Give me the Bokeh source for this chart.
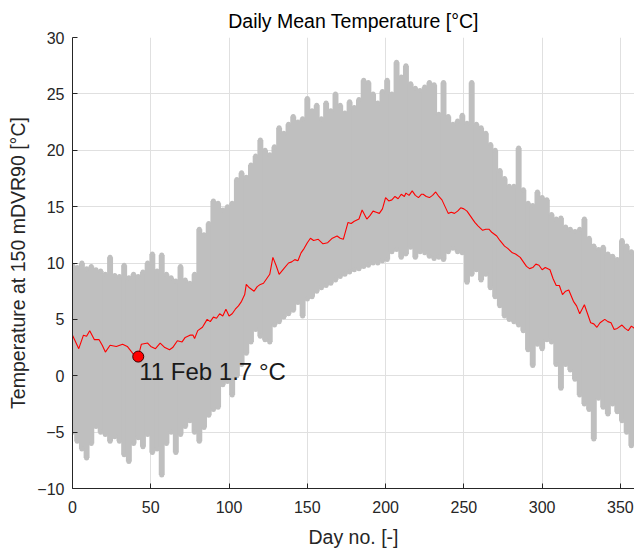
from bokeh.plotting import figure
from bokeh.models import Range1d, Label, FixedTicker
from bokeh.embed import file_html
from bokeh.resources import INLINE

# ---- data ----
# gray cloud of all years: per 3-day bin, lowest and highest daily mean
cloud_days = [0, 3, 6, 9, 12, 15, 18, 21, 24, 27, 30, 33, 36, 39, 42, 45, 48, 51, 54, 57,
              60, 63, 66, 69, 72, 75, 78, 81, 84, 87, 90, 93, 96, 99, 102, 105, 108, 111, 114, 117,
              120, 123, 126, 129, 132, 135, 138, 141, 144, 147, 150, 153, 156, 159, 162, 165, 168, 171, 174, 177,
              180, 183, 186, 189, 192, 195, 198, 201, 204, 207, 210, 213, 216, 219, 222, 225, 228, 231, 234, 237,
              240, 243, 246, 249, 252, 255, 258, 261, 264, 267, 270, 273, 276, 279, 282, 285, 288, 291, 294, 297,
              300, 303, 306, 309, 312, 315, 318, 321, 324, 327, 330, 333, 336, 339, 342, 345, 348, 351, 354, 357, 360]
cloud_high = [9.8, 9.6, 10.0, 9.5, 9.7, 9.4, 9.3, 9.0, 10.5, 8.9, 8.8, 9.8, 8.7, 9.0, 8.8, 9.2, 10.0, 10.8, 9.3, 10.7,
              9.0, 8.7, 8.4, 9.7, 8.5, 8.2, 9.0, 13.0, 12.5, 13.5, 15.5, 15.3, 14.7, 15.0, 15.3, 17.4, 18.0, 17.6, 18.7, 19.5,
              20.9, 20.0, 19.6, 20.3, 22.0, 21.5, 22.3, 23.0, 22.5, 22.8, 24.6, 23.5, 24.0, 22.8, 24.2, 23.5, 25.0, 24.0, 23.3, 24.3,
              23.8, 24.5, 26.2, 26.0, 25.0, 24.2, 25.2, 26.2, 25.0, 27.8, 26.5, 27.5, 25.9, 25.5, 25.3, 25.6, 26.0, 25.8, 23.2, 26.0,
              23.0, 22.3, 22.6, 23.1, 22.4, 26.0, 22.3, 22.0, 21.5, 20.5, 20.0, 18.2, 17.5, 16.8, 16.8, 20.2, 16.5, 15.3, 15.1, 16.3,
              15.8, 15.6, 14.3, 13.9, 14.0, 13.2, 13.0, 12.8, 13.0, 13.9, 12.2, 11.5, 11.2, 11.4, 10.8, 10.6, 10.3, 12.0, 11.5, 11.0, 11.0]
cloud_low = [-5.0, -5.8, -6.5, -7.3, -6.0, -4.5, -5.0, -5.2, -5.8, -5.4, -5.8, -7.0, -7.6, -6.0, -5.5, -6.3, -5.2, -6.8, -6.5, -8.8,
             -6.0, -5.0, -6.8, -5.2, -4.5, -4.0, -5.0, -5.8, -4.6, -3.5, -3.0, -2.8, -0.8, -0.5, -1.7, 0.0, 1.0, 2.0, 3.0, 4.1,
             3.5, 3.2, 3.0, 4.5, 4.8, 5.2, 5.5, 5.8, 6.5, 5.3, 6.8, 7.0, 7.5, 7.8, 8.0, 8.2, 8.5, 8.8, 9.0, 9.2,
             9.4, 9.5, 9.7, 9.8, 10.0, 10.0, 10.2, 10.3, 11.0, 11.2, 10.5, 10.8, 11.4, 10.5, 11.0, 10.9, 10.6, 10.4, 10.5, 10.3,
             11.0, 11.3, 11.0, 10.9, 8.3, 9.0, 9.4, 8.5, 9.0, 7.8, 7.0, 6.2, 5.3, 5.0, 4.8, 4.5, 4.0, 2.3, 0.9, 2.8,
             2.4, 3.2, 3.0, 1.0, -1.1, 1.0, 0.5, -0.3, -1.7, -2.5, -3.0, -5.6, -2.0, -2.8, -3.4, -2.5, -3.2, -4.0, -5.0, -6.2, -6.0]

# red line: mean over all years
mean_days = [0, 2, 4, 7, 9, 11, 14, 17, 19, 21, 24, 28, 32, 35, 39, 42, 44, 48, 50, 53,
             56, 59, 62, 64, 67, 70, 72, 75, 77, 78, 80, 83, 86, 88, 90, 92, 94, 96, 98, 100,
             102, 104, 106, 108, 110, 111, 113, 116, 118, 120, 122, 124, 126, 128, 130, 132, 135, 138, 140, 142,
             144, 146, 148, 150, 152, 154, 157, 160, 163, 166, 169, 171, 173, 176, 178, 180, 183, 185, 188, 190,
             192, 194, 196, 198, 200, 202, 204, 206, 208, 210, 212, 213, 215, 217, 219, 221, 223, 224, 226, 228,
             230, 232, 234, 236, 238, 240, 242, 244, 246, 248, 250, 252, 254, 257, 259, 262, 264, 266, 268, 271,
             273, 276, 278, 281, 283, 286, 288, 290, 292, 294, 296, 298, 300, 302, 305, 307, 309, 311, 313, 315,
             317, 320, 322, 324, 327, 329, 331, 333, 335, 337, 340, 342, 344, 346, 348, 351, 353, 355, 357, 359]
mean_vals = [3.6, 3.0, 2.4, 3.6, 3.5, 4.0, 3.2, 3.2, 2.7, 2.1, 2.7, 2.6, 2.8, 2.6, 1.9, 1.7, 2.8, 2.9, 2.6, 2.4,
             2.9, 2.5, 2.3, 2.5, 3.1, 3.0, 3.4, 3.6, 3.6, 3.3, 4.0, 4.3, 5.0, 4.8, 5.2, 5.1, 5.5, 5.3, 5.9, 5.3,
             5.5, 5.9, 6.2, 6.6, 7.2, 8.1, 7.8, 7.5, 7.9, 8.1, 8.2, 8.6, 9.0, 10.5, 9.8, 9.0, 9.5, 10.0, 10.1, 10.3,
             10.2, 10.9, 11.3, 11.8, 12.2, 12.0, 12.1, 11.7, 11.8, 12.2, 12.4, 12.2, 12.1, 13.6, 13.5, 13.7, 13.9, 14.7, 13.9, 14.2,
             14.6, 14.5, 14.4, 14.8, 15.8, 15.5, 15.6, 15.9, 15.7, 16.1, 15.9, 16.2, 16.0, 16.4, 16.0, 15.8, 16.1, 16.1, 15.9, 15.8,
             16.0, 16.3, 15.9, 15.6, 15.0, 14.4, 14.5, 14.4, 14.6, 14.9, 14.8, 14.6, 14.2, 13.6, 13.3, 12.9, 13.0, 13.0, 12.7, 12.4,
             12.0, 11.5, 11.3, 10.9, 10.8, 10.5, 10.1, 9.7, 9.5, 9.6, 9.9, 9.8, 9.4, 9.6, 9.4, 8.6, 8.0, 8.0, 7.2, 7.5,
             7.6, 6.6, 6.2, 5.5, 6.3, 5.5, 4.7, 4.6, 4.3, 4.7, 5.0, 4.8, 4.7, 4.1, 4.2, 4.5, 4.2, 4.0, 4.4, 4.2]

# annotated minimum
min_day = [42]
min_val = [1.7]
min_text = "11 Feb 1.7 °C"

x_ticks = [0, 50, 100, 150, 200, 250, 300, 350]
y_ticks = [-10, -5, 0, 5, 10, 15, 20, 25, 30]

FONT = "Liberation Sans"
INK = "#262626"
GRAY = "#bfbfbf"

p = figure(width=634, height=550, output_backend="svg", toolbar_location=None,
           x_range=Range1d(0, 359), y_range=Range1d(-10, 30),
           min_border_left=72, min_border_right=0, min_border_top=37, min_border_bottom=60,
           title="Daily Mean Temperature [°C]")
p.outline_line_color = None
p.background_fill_color = "white"

p.title.align = "center"
p.title.text_font = FONT
p.title.text_font_size = "19.5px"
p.title.text_font_style = "normal"
p.title.text_color = "#000000"
p.title.standoff = 12

p.vbar(x=cloud_days, bottom=cloud_low, top=cloud_high, width=3.8,
       fill_color=GRAY, line_color=None)
p.scatter(cloud_days, cloud_high, size=5, fill_color=GRAY, line_color=None)
p.scatter(cloud_days, cloud_low, size=5, fill_color=GRAY, line_color=None)
p.line(mean_days, mean_vals, line_color="#ff0000", line_width=1.1)
p.scatter(min_day, min_val, size=11, fill_color="#ff0000", line_color="#3a0000", line_width=1)
p.add_layout(Label(x=min_day[0], y=min_val[0], text=min_text, x_offset=1, y_offset=-15,
                   text_baseline="alphabetic", text_align="left",
                   text_font=FONT, text_font_size="24px", text_color="#1a1a1a"))

for ax, ticks in ((p.xaxis[0], x_ticks), (p.yaxis[0], y_ticks)):
    ax.ticker = FixedTicker(ticks=ticks)
    ax.axis_line_color = INK
    ax.major_tick_line_color = INK
    ax.major_tick_in = 5
    ax.major_tick_out = 0
    ax.minor_tick_line_color = None
    ax.major_label_text_font = FONT
    ax.major_label_text_font_size = "16px"
    ax.major_label_text_color = INK
    ax.axis_label_text_font = FONT
    ax.axis_label_text_font_size = "19.5px"
    ax.axis_label_text_font_style = "normal"
    ax.axis_label_text_color = INK

p.xaxis.axis_label = "Day no. [-]"
p.yaxis.axis_label = "Temperature at 150 mDVR90 [°C]"
p.xaxis.major_label_standoff = 12
p.yaxis.major_label_standoff = 8
p.xaxis.axis_label_standoff = 10
p.yaxis.axis_label_standoff = 5

p.xgrid.ticker = FixedTicker(ticks=x_ticks)
p.ygrid.ticker = FixedTicker(ticks=y_ticks)
p.grid.grid_line_color = "#e0e0e0"
p.grid.grid_line_width = 1

open("out.html", "w").write(file_html(p, INLINE))
